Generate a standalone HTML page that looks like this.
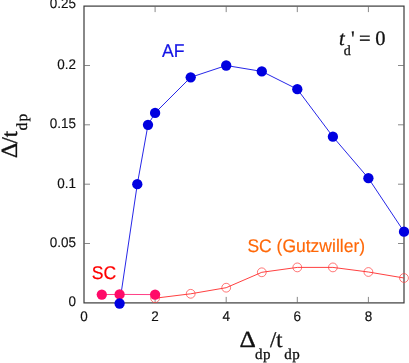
<!DOCTYPE html>
<html><head><meta charset="utf-8"><style>
html,body{margin:0;padding:0;background:#fff;}
svg{will-change:transform}
svg{display:block;text-rendering:geometricPrecision}
.tl{font-family:"Liberation Sans",sans-serif;font-size:13.5px;fill:#111;stroke:#111;stroke-width:0.15px}
.ser{font-family:"Liberation Serif",serif;fill:#111;stroke:#111;stroke-width:0.3px}
.sans{font-family:"Liberation Sans",sans-serif}
</style></head><body>
<svg width="409" height="363" viewBox="0 0 409 363">
<rect width="409" height="363" fill="#fff"/>
<rect x="84.0" y="6.1" width="320.0" height="296.8" fill="none" stroke="#3a3a3a" stroke-width="1.2"/>
<path d="M155.1 302.9 v-6 M155.1 6.1 v6 M226.2 302.9 v-6 M226.2 6.1 v6 M297.3 302.9 v-6 M297.3 6.1 v6 M368.4 302.9 v-6 M368.4 6.1 v6 M84.0 243.5 h6 M404.0 243.5 h-6 M84.0 184.2 h6 M404.0 184.2 h-6 M84.0 124.8 h6 M404.0 124.8 h-6 M84.0 65.5 h6 M404.0 65.5 h-6" stroke="#6a6a6a" stroke-width="0.8" fill="none"/>
<polyline points="119.6,303.5 137.3,184.2 148.0,124.8 155.1,112.9 190.7,77.3 226.2,65.5 261.8,71.4 297.3,89.2 332.9,136.7 368.4,178.2 404.0,231.7" fill="none" stroke="#1a1ae6" stroke-width="0.95"/>
<polyline points="155.1,298.2 190.7,293.8 226.2,287.7 261.8,272.3 297.3,267.4 332.9,267.4 368.4,272.0 404.0,278.0" fill="none" stroke="#ff2a2a" stroke-width="0.9"/>
<polyline points="101.8,294.6 119.6,294.4 155.1,294.6" fill="none" stroke="#ff2a78" stroke-width="0.9"/>
<circle cx="155.1" cy="298.2" r="4.4" fill="none" stroke="#ff3b3b" stroke-width="0.7"/>
<circle cx="190.7" cy="293.8" r="4.4" fill="none" stroke="#ff3b3b" stroke-width="0.7"/>
<circle cx="226.2" cy="287.7" r="4.4" fill="none" stroke="#ff3b3b" stroke-width="0.7"/>
<circle cx="261.8" cy="272.3" r="4.4" fill="none" stroke="#ff3b3b" stroke-width="0.7"/>
<circle cx="297.3" cy="267.4" r="4.4" fill="none" stroke="#ff3b3b" stroke-width="0.7"/>
<circle cx="332.9" cy="267.4" r="4.4" fill="none" stroke="#ff3b3b" stroke-width="0.7"/>
<circle cx="368.4" cy="272.0" r="4.4" fill="none" stroke="#ff3b3b" stroke-width="0.7"/>
<circle cx="404.0" cy="278.0" r="4.4" fill="none" stroke="#ff3b3b" stroke-width="0.7"/>
<circle cx="101.8" cy="294.6" r="5.15" fill="#ff0a68"/>
<circle cx="119.6" cy="294.4" r="5.15" fill="#ff0a68"/>
<circle cx="155.1" cy="294.6" r="5.15" fill="#ff0a68"/>
<circle cx="119.6" cy="303.5" r="5.15" fill="#0000e0"/>
<circle cx="137.3" cy="184.2" r="5.15" fill="#0000e0"/>
<circle cx="148.0" cy="124.8" r="5.15" fill="#0000e0"/>
<circle cx="155.1" cy="112.9" r="5.15" fill="#0000e0"/>
<circle cx="190.7" cy="77.3" r="5.15" fill="#0000e0"/>
<circle cx="226.2" cy="65.5" r="5.15" fill="#0000e0"/>
<circle cx="261.8" cy="71.4" r="5.15" fill="#0000e0"/>
<circle cx="297.3" cy="89.2" r="5.15" fill="#0000e0"/>
<circle cx="332.9" cy="136.7" r="5.15" fill="#0000e0"/>
<circle cx="368.4" cy="178.2" r="5.15" fill="#0000e0"/>
<circle cx="404.0" cy="231.7" r="5.15" fill="#0000e0"/>
<text transform="translate(84.0,320.6) scale(1,1.04)" text-anchor="middle" class="tl">0</text>
<text transform="translate(155.1,320.6) scale(1,1.04)" text-anchor="middle" class="tl">2</text>
<text transform="translate(226.2,320.6) scale(1,1.04)" text-anchor="middle" class="tl">4</text>
<text transform="translate(297.3,320.6) scale(1,1.04)" text-anchor="middle" class="tl">6</text>
<text transform="translate(368.4,320.6) scale(1,1.04)" text-anchor="middle" class="tl">8</text>
<text transform="translate(76,306.3) scale(1,1.04)" text-anchor="end" class="tl">0</text>
<text transform="translate(76,246.9) scale(1,1.04)" text-anchor="end" class="tl">0.05</text>
<text transform="translate(76,187.6) scale(1,1.04)" text-anchor="end" class="tl">0.1</text>
<text transform="translate(76,128.2) scale(1,1.04)" text-anchor="end" class="tl">0.15</text>
<text transform="translate(76,68.9) scale(1,1.04)" text-anchor="end" class="tl">0.2</text>
<text transform="translate(76,8.0) scale(1,1.04)" text-anchor="end" class="tl">0.25</text>
<text transform="translate(162,57.3) scale(1,1.045)" class="sans" font-size="17.6" fill="#1414e6" stroke="#1414e6" stroke-width="0.18">AF</text>
<text transform="translate(91.8,279.3) scale(1,1.045)" class="sans" font-size="17.6" fill="#ff0000" stroke="#ff0000" stroke-width="0.18">SC</text>
<text transform="translate(247.4,252.1) scale(1,1.045)" class="sans" font-size="17.5" fill="#ff6808" stroke="#ff6808" stroke-width="0.15">SC (Gutzwiller)</text>
<text x="339" y="44.8" class="ser" font-size="20.5"><tspan font-style="italic">t</tspan><tspan x="343.8" y="55.1" font-size="14">d</tspan><tspan x="351" y="44.8">'</tspan><tspan x="359.1" y="44.8">=</tspan><tspan x="375.2" y="44.8">0</tspan></text>
<text transform="translate(239.4,347) scale(1.13,1.03)" class="ser" font-size="22.5">&#916;</text>
<text class="ser" font-size="22.5"><tspan x="255" y="359" font-size="15" letter-spacing="0.5">dp</tspan><tspan x="270" y="347">/t</tspan><tspan x="284.2" y="359" font-size="15" letter-spacing="0.5">dp</tspan></text>
<g transform="translate(17.4,158.2) rotate(-90)"><text transform="translate(-0.1,0) scale(1.08,1.03)" class="ser" font-size="22.5">&#916;</text><text x="0" y="0" class="ser" font-size="22.5"><tspan x="14.6" y="0">/t</tspan><tspan x="27.7" y="9.5" font-size="15.5" letter-spacing="1.2">dp</tspan></text></g>
</svg>
</body></html>
